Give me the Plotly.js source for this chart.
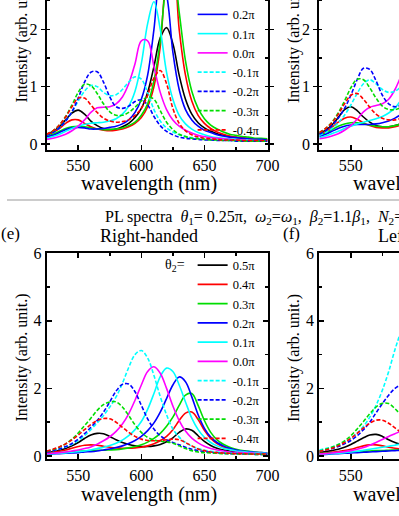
<!DOCTYPE html>
<html><head><meta charset="utf-8">
<script src="https://cdn.plot.ly/plotly-3.0.1.min.js"></script>
<style>
html,body{margin:0;padding:0;background:#fff;overflow:hidden;}
#wrap{position:relative;width:399px;height:516px;overflow:hidden;background:#fff;}
#plot{position:absolute;left:0;top:-80px;width:560px;height:596px;}
</style></head><body><div id="wrap"><div id="plot"></div></div>
<script>
// ---------------- data ----------------
const wavelength = [525,530,535,540,545,550,555,560,565,570,575,580,585,590,595,600,605,610,615,620,625,630,635,640,645,650,655,660,665,670,675,680,685,690,695,700];
const wavelengthShort = [525,530,535,540,545,550,555,560,565,570,575,580,585,590,595,600];
const theta2Labels = ['0.5π','0.4π','0.3π','0.2π','0.1π','0.0π','-0.1π','-0.2π','-0.3π','-0.4π'];

// top-left panel
const c_05 = [0.17,0.22,0.30,0.42,0.54,0.59,0.52,0.40,0.32,0.27,0.25,0.26,0.30,0.36,0.46,0.62,0.90,1.35,1.85,2.03,1.75,1.20,0.78,0.52,0.37,0.28,0.22,0.18,0.15,0.13,0.11,0.10,0.09,0.08,0.07,0.07];
const c_04 = [0.15,0.20,0.27,0.36,0.42,0.42,0.36,0.30,0.26,0.24,0.23,0.24,0.26,0.30,0.36,0.46,0.65,1.00,1.70,2.90,3.20,2.00,1.20,0.75,0.50,0.36,0.27,0.21,0.17,0.14,0.12,0.11,0.10,0.09,0.08,0.08];
const c_03 = [0.13,0.17,0.22,0.27,0.30,0.31,0.30,0.28,0.26,0.25,0.25,0.26,0.28,0.32,0.38,0.50,0.70,1.10,1.80,2.80,3.10,2.30,1.45,0.92,0.62,0.44,0.33,0.26,0.21,0.17,0.15,0.13,0.12,0.10,0.10,0.09];
const c_02 = [0.12,0.15,0.20,0.25,0.28,0.29,0.28,0.26,0.26,0.27,0.29,0.31,0.35,0.42,0.55,0.78,1.20,2.00,2.90,2.60,1.60,0.95,0.60,0.42,0.31,0.24,0.20,0.16,0.14,0.12,0.11,0.10,0.09,0.08,0.08,0.07];
const c_01 = [0.10,0.13,0.17,0.22,0.27,0.31,0.34,0.36,0.37,0.38,0.40,0.44,0.52,0.66,0.92,1.40,2.10,2.48,2.00,1.25,0.78,0.50,0.35,0.26,0.20,0.16,0.13,0.11,0.10,0.09,0.08,0.07,0.07,0.06,0.06,0.05];
const c_00 = [0.08,0.10,0.13,0.17,0.23,0.31,0.42,0.55,0.63,0.64,0.65,0.70,0.82,1.05,1.40,1.80,1.80,1.35,0.90,0.60,0.42,0.31,0.24,0.19,0.15,0.13,0.11,0.10,0.09,0.08,0.07,0.07,0.06,0.06,0.05,0.05];
const c_m01 = [0.15,0.20,0.28,0.40,0.56,0.75,0.92,1.02,1.00,0.90,0.84,0.86,0.95,1.08,1.17,1.13,0.90,0.60,0.40,0.28,0.21,0.16,0.13,0.11,0.10,0.09,0.08,0.07,0.07,0.06,0.06,0.06,0.05,0.05,0.05,0.05];
const c_m02 = [0.15,0.20,0.28,0.40,0.56,0.80,1.08,1.25,1.26,1.08,0.82,0.65,0.62,0.66,0.74,0.77,0.68,0.48,0.32,0.22,0.16,0.12,0.10,0.09,0.08,0.07,0.07,0.06,0.06,0.06,0.05,0.05,0.05,0.05,0.05,0.05];
const c_m03 = [0.17,0.23,0.33,0.48,0.68,0.90,1.04,1.02,0.88,0.70,0.56,0.50,0.50,0.55,0.64,0.75,0.82,0.78,0.58,0.38,0.25,0.17,0.13,0.10,0.09,0.08,0.07,0.07,0.06,0.06,0.06,0.05,0.05,0.05,0.05,0.05];
const c_m04 = [0.17,0.23,0.33,0.47,0.65,0.80,0.80,0.68,0.55,0.45,0.40,0.38,0.39,0.42,0.50,0.62,0.85,1.15,1.28,1.05,0.62,0.36,0.23,0.16,0.12,0.10,0.09,0.08,0.07,0.07,0.07,0.06,0.06,0.06,0.06,0.06];

// top-right panel (visible part)
const d_05 = [0.18,0.24,0.33,0.46,0.60,0.65,0.58,0.47,0.38,0.32,0.30,0.30,0.32,0.36,0.42,0.50];
const d_04 = [0.17,0.22,0.29,0.38,0.45,0.47,0.43,0.37,0.32,0.29,0.28,0.28,0.30,0.33,0.38,0.45];
const d_03 = [0.15,0.19,0.25,0.31,0.35,0.37,0.37,0.35,0.33,0.31,0.30,0.30,0.32,0.35,0.40,0.47];
const d_02 = [0.13,0.17,0.22,0.27,0.31,0.33,0.34,0.34,0.34,0.35,0.37,0.40,0.45,0.52,0.62,0.78];
const d_01 = [0.11,0.14,0.18,0.22,0.27,0.31,0.35,0.38,0.41,0.44,0.48,0.54,0.63,0.78,1.00,1.35];
const d_00 = [0.09,0.11,0.14,0.18,0.24,0.32,0.43,0.56,0.64,0.67,0.70,0.78,0.95,1.20,1.50,1.80];
const d_m01 = [0.15,0.20,0.27,0.37,0.50,0.68,0.88,1.05,1.12,1.05,0.95,0.90,0.92,1.00,1.10,1.15];
const d_m02 = [0.17,0.23,0.32,0.45,0.62,0.85,1.12,1.32,1.30,1.10,0.85,0.70,0.65,0.68,0.75,0.80];
const d_m03 = [0.20,0.27,0.38,0.54,0.75,0.98,1.13,1.12,0.98,0.80,0.66,0.60,0.60,0.64,0.72,0.80];
const d_m04 = [0.20,0.27,0.37,0.52,0.70,0.85,0.88,0.78,0.64,0.52,0.45,0.42,0.42,0.45,0.50,0.58];

// (e) Right-handed
const e_05 = [0.10,0.13,0.17,0.22,0.30,0.40,0.52,0.62,0.67,0.66,0.58,0.48,0.40,0.34,0.30,0.28,0.28,0.30,0.34,0.42,0.54,0.70,0.80,0.76,0.60,0.43,0.31,0.23,0.18,0.15,0.12,0.10,0.09,0.08,0.07,0.07];
const e_04 = [0.09,0.11,0.14,0.18,0.23,0.28,0.32,0.33,0.32,0.29,0.26,0.24,0.23,0.23,0.24,0.26,0.30,0.36,0.45,0.58,0.78,1.05,1.27,1.30,1.08,0.76,0.52,0.37,0.27,0.21,0.17,0.14,0.12,0.10,0.09,0.08];
const e_03 = [0.07,0.08,0.10,0.11,0.13,0.14,0.15,0.16,0.17,0.17,0.18,0.19,0.21,0.24,0.28,0.33,0.41,0.52,0.67,0.88,1.15,1.50,1.80,1.85,1.50,1.05,0.70,0.48,0.35,0.26,0.20,0.16,0.14,0.12,0.10,0.09];
const e_02 = [0.05,0.06,0.07,0.08,0.09,0.10,0.12,0.13,0.15,0.18,0.21,0.25,0.30,0.37,0.46,0.58,0.75,0.98,1.30,1.70,2.10,2.34,2.20,1.75,1.22,0.82,0.56,0.40,0.30,0.23,0.18,0.15,0.13,0.11,0.10,0.09];
const e_01 = [0.06,0.07,0.08,0.09,0.11,0.13,0.15,0.18,0.22,0.26,0.31,0.38,0.47,0.60,0.78,1.02,1.38,1.85,2.35,2.60,2.50,2.10,1.60,1.12,0.78,0.55,0.40,0.30,0.23,0.19,0.15,0.13,0.11,0.10,0.09,0.08];
const e_00 = [0.07,0.08,0.10,0.12,0.15,0.18,0.22,0.27,0.35,0.45,0.57,0.73,0.95,1.25,1.65,2.10,2.50,2.64,2.45,2.00,1.48,1.05,0.74,0.53,0.39,0.29,0.22,0.18,0.15,0.12,0.11,0.10,0.09,0.08,0.07,0.07];
const e_m01 = [0.13,0.16,0.21,0.27,0.35,0.46,0.60,0.78,0.98,1.20,1.45,1.75,2.15,2.62,3.00,3.12,2.90,2.38,1.76,1.22,0.80,0.56,0.40,0.29,0.22,0.17,0.14,0.12,0.10,0.09,0.08,0.07,0.07,0.06,0.06,0.05];
const e_m02 = [0.12,0.16,0.21,0.28,0.37,0.50,0.66,0.85,1.05,1.30,1.60,1.92,2.12,2.13,1.90,1.50,1.10,0.80,0.60,0.48,0.40,0.33,0.26,0.20,0.16,0.13,0.11,0.09,0.08,0.07,0.07,0.06,0.06,0.05,0.05,0.05];
const e_m03 = [0.14,0.19,0.26,0.36,0.50,0.68,0.90,1.12,1.35,1.52,1.60,1.60,1.45,1.20,0.92,0.70,0.55,0.47,0.44,0.42,0.38,0.30,0.22,0.16,0.12,0.10,0.09,0.08,0.07,0.07,0.06,0.06,0.06,0.05,0.05,0.05];
const e_m04 = [0.15,0.20,0.27,0.36,0.48,0.62,0.78,0.93,1.05,1.11,1.10,1.00,0.85,0.70,0.58,0.50,0.46,0.45,0.46,0.48,0.50,0.48,0.40,0.30,0.21,0.16,0.12,0.10,0.09,0.08,0.07,0.07,0.06,0.06,0.06,0.06];

// (f) Left-handed (visible part)
const f_05 = [0.10,0.13,0.16,0.20,0.26,0.34,0.44,0.54,0.62,0.64,0.58,0.48,0.40,0.34,0.30,0.28];
const f_04 = [0.08,0.09,0.11,0.13,0.16,0.20,0.25,0.30,0.33,0.33,0.30,0.26,0.23,0.21,0.20,0.20];
const f_03 = [0.07,0.08,0.09,0.10,0.11,0.12,0.13,0.14,0.15,0.16,0.16,0.17,0.18,0.19,0.20,0.22];
const f_02 = [0.04,0.05,0.06,0.07,0.08,0.09,0.10,0.11,0.12,0.13,0.14,0.15,0.16,0.17,0.19,0.21];
const f_01 = [0.05,0.06,0.07,0.08,0.10,0.12,0.14,0.17,0.20,0.23,0.26,0.29,0.32,0.36,0.42,0.50];
const f_00 = [0.06,0.07,0.09,0.11,0.13,0.16,0.20,0.25,0.32,0.40,0.49,0.58,0.66,0.75,0.88,1.05];
const f_m01 = [0.18,0.22,0.27,0.34,0.42,0.53,0.68,0.88,1.15,1.50,1.95,2.50,3.15,3.70,4.10,4.20];
const f_m02 = [0.14,0.18,0.22,0.28,0.36,0.46,0.60,0.78,1.00,1.28,1.55,1.80,2.00,2.10,2.05,1.90];
const f_m03 = [0.15,0.20,0.26,0.34,0.45,0.60,0.80,1.02,1.25,1.45,1.56,1.55,1.40,1.20,1.00,0.85];
const f_m04 = [0.14,0.18,0.23,0.30,0.40,0.52,0.67,0.83,0.97,1.06,1.06,0.97,0.83,0.70,0.60,0.52];

// ---------------- styling / geometry ----------------
const seriesColors = ['#000000','#ff0000','#00dd00','#0000ff','#00ffff','#ff00ff','#00ffff','#0000ff','#00dd00','#ff0000'];
const W = 560, H = 596, OT = 80;
const px = v => v / W;
const py = v => 1 - (v + OT) / H;
const domL = [px(46.7), px(267.5)], domR = [px(319.3), px(540.1)];
const domT = [py(149.7), py(-56.7)], domB = [py(459.4), py(253.2)];
const SERIF = 'Liberation Serif, Times New Roman, serif';

const panels = [
  {xa:'x',  ya:'y',  x:wavelength,      ys:[c_05,c_04,c_03,c_02,c_01,c_00,c_m01,c_m02,c_m03,c_m04], legend:'legend',  show:true},
  {xa:'x2', ya:'y2', x:wavelengthShort, ys:[d_05,d_04,d_03,d_02,d_01,d_00,d_m01,d_m02,d_m03,d_m04], legend:'legend',  show:false},
  {xa:'x3', ya:'y3', x:wavelength,      ys:[e_05,e_04,e_03,e_02,e_01,e_00,e_m01,e_m02,e_m03,e_m04], legend:'legend2', show:true},
  {xa:'x4', ya:'y4', x:wavelengthShort, ys:[f_05,f_04,f_03,f_02,f_01,f_00,f_m01,f_m02,f_m03,f_m04], legend:'legend2', show:false}
];
const traces = [];
panels.forEach(p => {
  p.ys.forEach((y, i) => {
    traces.push({
      type:'scatter', mode:'lines', x:p.x, y:y, xaxis:p.xa, yaxis:p.ya,
      name:theta2Labels[i], legend:p.legend, showlegend:p.show,
      line:{color:seriesColors[i], width:1.6, shape:'spline', smoothing:1, dash: i < 6 ? 'solid' : '4px,2px'},
      hoverinfo:'skip'
    });
  });
});

const base = {showline:true, linecolor:'#000', linewidth:2, mirror:'ticks', showgrid:false, zeroline:false,
  tickcolor:'#000', tickwidth:1.5, tickfont:{family:SERIF, size:16, color:'#000'}};
function xax(dom, anchor){
  return Object.assign({}, base, {domain:dom, anchor:anchor, range:[525,700], tick0:550, dtick:50, ticks:'inside', ticklen:5,
    minor:{ticks:'inside', ticklen:3, dtick:25, tick0:525, tickcolor:'#000', tickwidth:1.5}});
}
function yax(dom, anchor, top){
  return Object.assign({}, base, top ?
    {domain:dom, anchor:anchor, range:[-0.1,3.5], tick0:0, dtick:1, ticks:'outside', ticklen:4,
      minor:{ticks:'inside', ticklen:3, dtick:0.5, tick0:0, tickcolor:'#000', tickwidth:1.5}} :
    {domain:dom, anchor:anchor, range:[-0.1,6], tick0:0, dtick:2, ticks:'inside', ticklen:5,
      minor:{ticks:'inside', ticklen:3, dtick:1, tick0:0, tickcolor:'#000', tickwidth:1.5}});
}
function ann(text, x, y, size, extra){
  return Object.assign({text:text, xref:'paper', yref:'paper', x:px(x), y:py(y), showarrow:false,
    xanchor:'center', yanchor:'middle', font:{family:SERIF, size:size, color:'#000'}}, extra||{});
}
const yTitle = 'Intensity (arb. unit.)';
const xTitle = 'wavelength (nm)';
const legendCommon = {xanchor:'left', yanchor:'top', bgcolor:'rgba(0,0,0,0)', borderwidth:0,
  font:{family:SERIF, size:12.5, color:'#000'}, tracegroupgap:0, itemwidth:30,
  title:{text:'θ<sub>2</sub>=', side:'left', font:{family:SERIF, size:14, color:'#000'}}};
const sp = '\u00a0';
const plTitle = 'PL spectra' + sp + sp + '<i>θ</i><sub>1</sub>= 0.25π,' + sp + sp + '<i>ω</i><sub>2</sub>=<i>ω</i><sub>1</sub>,' + sp + sp +
  '<i>β</i><sub>2</sub>=1.1<i>β</i><sub>1</sub>,' + sp + sp + '<i>N</i><sub>2</sub>=<i>N</i><sub>1</sub>';

const layout = {
  width:W, height:H, margin:{l:0,r:0,t:0,b:0}, paper_bgcolor:'#fff', plot_bgcolor:'#fff', showlegend:true,
  xaxis:xax(domL,'y'), yaxis:yax(domT,'x',true),
  xaxis2:xax(domR,'y2'), yaxis2:yax(domT,'x2',true),
  xaxis3:xax(domL,'y3'), yaxis3:yax(domB,'x3',false),
  xaxis4:xax(domR,'y4'), yaxis4:yax(domB,'x4',false),
  legend:Object.assign({}, legendCommon, {x:px(163), y:py(-58)}),
  legend2:Object.assign({}, legendCommon, {x:px(163), y:py(250.5)}),
  shapes:[{type:'line', xref:'paper', yref:'paper', x0:px(7), x1:1, y0:py(200), y1:py(200), line:{color:'#999', width:1}}],
  annotations:[
    ann(xTitle, 148.5, 183, 20), ann(xTitle, 421, 183, 20),
    ann(xTitle, 148.5, 494, 20), ann(xTitle, 421, 494, 20),
    ann(yTitle, 21.5, 39, 16, {textangle:-90}), ann(yTitle, 294, 39, 16, {textangle:-90}),
    ann(yTitle, 21.5, 358, 16, {textangle:-90}), ann(yTitle, 294, 358, 16, {textangle:-90}),
    ann(plTitle, 103, 217, 16, {xanchor:'left'}),
    ann('(e)', 10, 233, 17), ann('(f)', 291, 233, 17),
    ann('Right-handed', 149, 236, 18), ann('Left-handed', 422, 236, 18)
  ]
};
Plotly.newPlot('plot', traces, layout, {staticPlot:true, displayModeBar:false});
</script></body></html>
